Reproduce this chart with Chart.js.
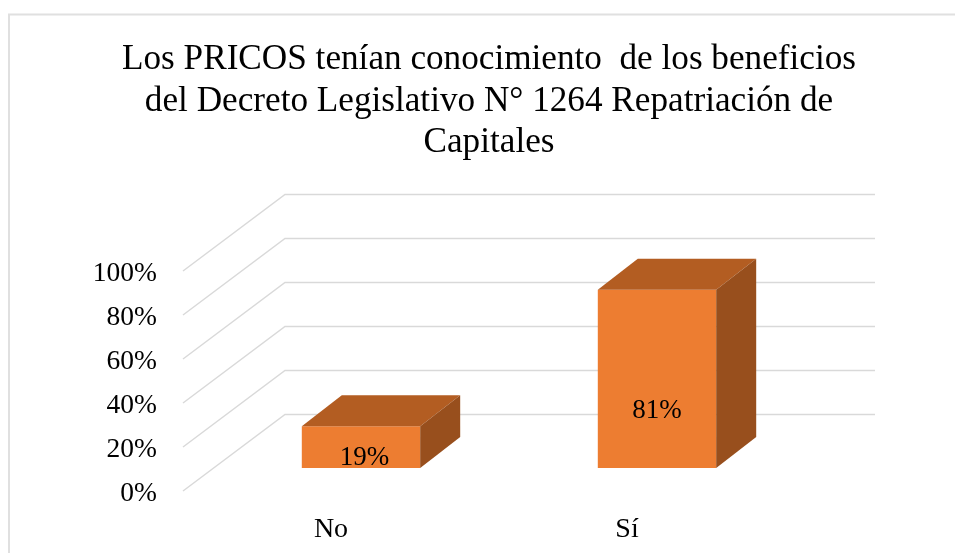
<!DOCTYPE html>
<html><head><meta charset="utf-8">
<style>html,body{margin:0;padding:0;background:#fff}#w{position:relative;width:955px;height:553px}</style>
<script src="https://cdn.jsdelivr.net/npm/chart.js@4"></script>
</head><body><div id="w"><canvas id="c" width="955" height="553"></canvas></div>
<script>
const categories = ["No", "Sí"];
const values = [19, 81];
const valueLabels = ["19%", "81%"];
const titleLines = ["Los PRICOS tenían conocimiento  de los beneficios", "del Decreto Legislativo N° 1264 Repatriación de", "Capitales"];

const FONT = '"Liberation Serif","Times New Roman",serif';
const DEPTH = {x:102, y:76.5};      // wall depth
const BAR_SHIFT = {x:30, y:-23};    // bar plane relative to the front plane
const BAR_DEPTH = {x:40, y:31};
const LABEL_NUDGE = [3.5, 0];

const plugin3d = {
  id:'plugin3d',
  beforeDraw(chart){
    const c = chart.ctx;
    c.save();
    c.strokeStyle='#e0e0e0'; c.lineWidth=2;
    c.beginPath(); c.moveTo(9,553); c.lineTo(9,14.5); c.lineTo(955,14.5); c.stroke();
    c.restore();
  },
  beforeDatasetsDraw(chart){
    const c = chart.ctx, y = chart.scales.y, a = chart.chartArea;
    c.save();
    c.strokeStyle='#d9d9d9'; c.lineWidth=1.5;
    y.ticks.forEach(t=>{
      const py = y.getPixelForValue(t.value);
      c.beginPath();
      c.moveTo(a.left, py);
      c.lineTo(a.left+DEPTH.x, py-DEPTH.y);
      c.lineTo(a.right+DEPTH.x-2, py-DEPTH.y);
      c.stroke();
    });
    c.restore();
    c.save();
    c.translate(BAR_SHIFT.x, BAR_SHIFT.y);
  },
  afterDatasetsDraw(chart){
    const c = chart.ctx, meta = chart.getDatasetMeta(0);
    meta.data.forEach((b,i)=>{
      const l=b.x-b.width/2, r=b.x+b.width/2, t=b.y, bt=b.base;
      c.fillStyle='#b35d22';
      c.beginPath(); c.moveTo(l,t); c.lineTo(l+BAR_DEPTH.x,t-BAR_DEPTH.y); c.lineTo(r+BAR_DEPTH.x,t-BAR_DEPTH.y); c.lineTo(r,t); c.closePath(); c.fill();
      c.fillStyle='#984f1d';
      c.beginPath(); c.moveTo(r,t); c.lineTo(r+BAR_DEPTH.x,t-BAR_DEPTH.y); c.lineTo(r+BAR_DEPTH.x,bt-BAR_DEPTH.y); c.lineTo(r,bt); c.closePath(); c.fill();
      const h = bt-t;
      c.fillStyle='#000'; c.font='27px '+FONT; c.textAlign='center'; c.textBaseline='middle';
      c.fillText(valueLabels[i], b.x+LABEL_NUDGE[i], bt-(h*0.345-4));
    });
    c.restore();
  }
};

new Chart(document.getElementById('c'),{
  type:'bar',
  data:{labels:categories,datasets:[{data:values,backgroundColor:'#ed7d31',borderWidth:0,barPercentage:1,categoryPercentage:0.4}]},
  options:{
    responsive:false,animation:false,
    layout:{padding:{left:23,right:0,top:0,bottom:0}},
    plugins:{
      legend:{display:false},tooltip:{enabled:false},
      title:{display:true,text:titleLines,color:'#000',align:'center',
        font:{family:FONT,size:35.2,weight:'normal',lineHeight:1.179},
        padding:{top:39.5,bottom:107},fullSize:true}
    },
    scales:{
      x:{grid:{display:false},border:{display:false},
        ticks:{color:'#000',font:{family:FONT,size:28},padding:14,maxRotation:0},
        afterFit(s){s.height=62;}},
      y:{min:0,max:100,grid:{display:false},border:{display:false},
        ticks:{stepSize:20,color:'#000',font:{family:FONT,size:27.5},padding:18,labelOffset:2.5,callback:v=>v+'%'},
        afterFit(s){s.width=160;}},
      rightGap:{type:'linear',position:'right',grid:{display:false},border:{display:false},
        ticks:{display:false},afterFit(s){s.width=180;}}
    }
  },
  plugins:[plugin3d]
});
</script></body></html>
